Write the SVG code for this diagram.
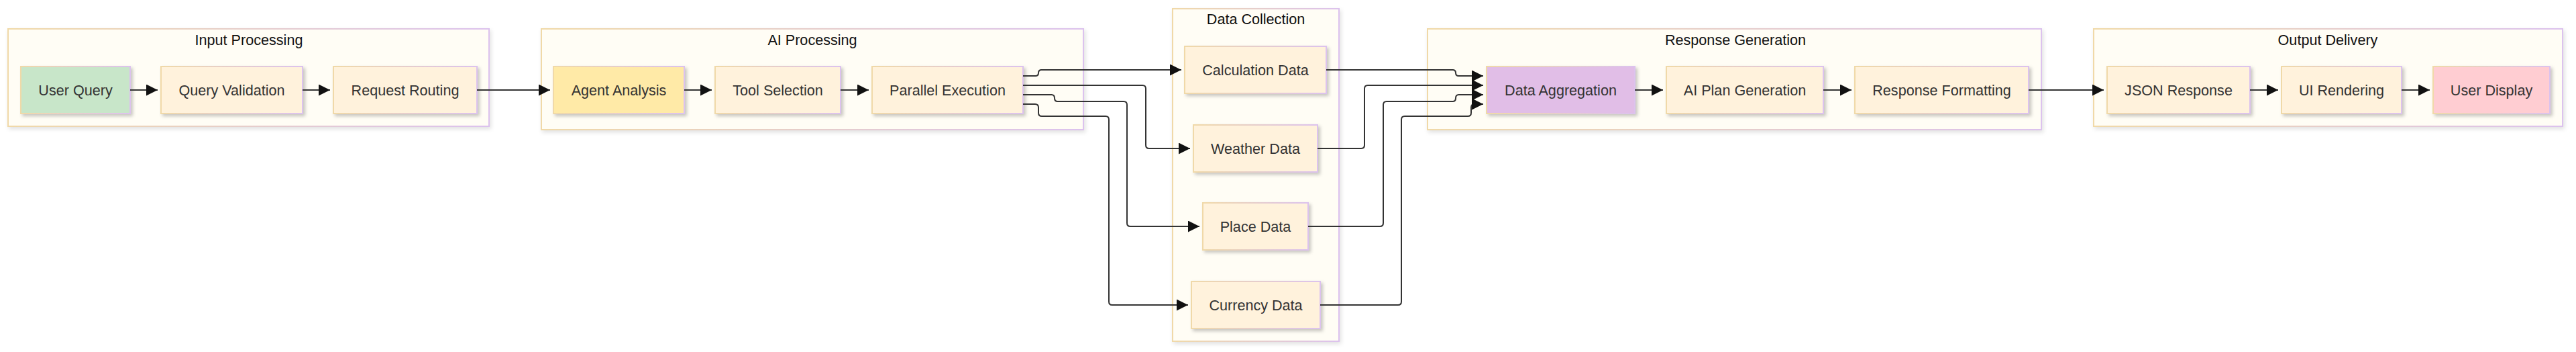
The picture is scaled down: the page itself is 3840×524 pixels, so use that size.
<svg xmlns="http://www.w3.org/2000/svg" width="3840" height="524" viewBox="0 0 3840 524">
<defs>
<linearGradient id="bd" x1="0" y1="0" x2="1" y2="0"><stop offset="0" stop-color="#f0d9a8"/><stop offset="1" stop-color="#dcc2ee"/></linearGradient>
<filter id="sh" x="-10%" y="-20%" width="130%" height="150%"><feDropShadow dx="3" dy="3" stdDeviation="2.5" flood-color="#000" flood-opacity="0.22"/></filter>
<filter id="gsh" x="-5%" y="-10%" width="110%" height="130%"><feDropShadow dx="2" dy="3" stdDeviation="3" flood-color="#000" flood-opacity="0.12"/></filter>
<marker id="ah" markerUnits="userSpaceOnUse" markerWidth="17" markerHeight="17" refX="17" refY="8.5" orient="auto"><path d="M0,0 L17,8.5 L0,17 z" fill="#111"/></marker>
</defs>
<style>
.grp{fill:#fffdf5;stroke:url(#bd);stroke-width:2;filter:url(#gsh)}
.nd{fill:#fff2dc;stroke:url(#bd);stroke-width:2;filter:url(#sh)}
.gt{font-family:"Liberation Sans",Arial,sans-serif;font-size:21.6px;fill:#111;text-anchor:middle}
.nt{font-family:"Liberation Sans",Arial,sans-serif;font-size:21.6px;fill:#333;text-anchor:middle}
.cn path{fill:none;stroke:#333;stroke-width:2;marker-end:url(#ah)}
</style>
<g id="input-processing"><rect class="grp" x="12" y="43" width="717" height="145"/><text class="gt" x="371" y="67">Input Processing</text></g>
<g id="ai-processing"><rect class="grp" x="807" y="43" width="808" height="150"/><text class="gt" x="1211" y="67">AI Processing</text></g>
<g id="data-collection"><rect class="grp" x="1748" y="13" width="248" height="495"/><text class="gt" x="1872" y="36">Data Collection</text></g>
<g id="response-generation"><rect class="grp" x="2128" y="43" width="915" height="150"/><text class="gt" x="2587" y="67">Response Generation</text></g>
<g id="output-delivery"><rect class="grp" x="3121" y="43" width="699" height="145"/><text class="gt" x="3470" y="67">Output Delivery</text></g>

<g id="user-query"><rect class="nd" x="31" y="99" width="163" height="70" style="fill:#c8e6c9"/><text class="nt" x="112.5" y="142">User Query</text></g>
<g id="query-validation"><rect class="nd" x="240" y="99" width="211" height="70"/><text class="nt" x="345.5" y="142">Query Validation</text></g>
<g id="request-routing"><rect class="nd" x="497" y="99" width="214" height="70"/><text class="nt" x="604" y="142">Request Routing</text></g>
<g id="agent-analysis"><rect class="nd" x="825" y="99" width="195" height="70" style="fill:#ffeaa7"/><text class="nt" x="922.5" y="142">Agent Analysis</text></g>
<g id="tool-selection"><rect class="nd" x="1066" y="99" width="187" height="70"/><text class="nt" x="1159.5" y="142">Tool Selection</text></g>
<g id="parallel-execution"><rect class="nd" x="1300" y="99" width="225" height="70"/><text class="nt" x="1412.5" y="142">Parallel Execution</text></g>
<g id="calculation-data"><rect class="nd" x="1766" y="69" width="211" height="70"/><text class="nt" x="1871.5" y="112">Calculation Data</text></g>
<g id="weather-data"><rect class="nd" x="1779" y="186" width="185" height="70"/><text class="nt" x="1871.5" y="229">Weather Data</text></g>
<g id="place-data"><rect class="nd" x="1793" y="302" width="157" height="70"/><text class="nt" x="1871.5" y="345">Place Data</text></g>
<g id="currency-data"><rect class="nd" x="1776" y="419" width="192" height="70"/><text class="nt" x="1872" y="462">Currency Data</text></g>
<g id="data-aggregation"><rect class="nd" x="2216" y="99" width="221" height="70" style="fill:#e1bee7"/><text class="nt" x="2326.5" y="142">Data Aggregation</text></g>
<g id="ai-plan-generation"><rect class="nd" x="2484" y="99" width="234" height="70"/><text class="nt" x="2601" y="142">AI Plan Generation</text></g>
<g id="response-formatting"><rect class="nd" x="2765" y="99" width="259" height="70"/><text class="nt" x="2894.5" y="142">Response Formatting</text></g>
<g id="json-response"><rect class="nd" x="3141" y="99" width="213" height="70"/><text class="nt" x="3247.5" y="142">JSON Response</text></g>
<g id="ui-rendering"><rect class="nd" x="3401" y="99" width="179" height="70"/><text class="nt" x="3490.5" y="142">UI Rendering</text></g>
<g id="user-display"><rect class="nd" x="3627" y="99" width="174" height="70" style="fill:#ffcdd2"/><text class="nt" x="3714" y="142">User Display</text></g>

<g id="connectors" class="cn">
<path d="M194,134 H235"/>
<path d="M451,134 H492"/>
<path d="M711,134 H820"/>
<path d="M1020,134 H1061"/>
<path d="M1253,134 H1295"/>
<path d="M1525,113 H1543.5 Q1548,113 1548,108.5 Q1548,104 1552.5,104 H1761"/>
<path d="M1525,127 H1703 Q1708,127 1708,132 V216 Q1708,221 1713,221 H1774"/>
<path d="M1525,141 H1567.5 Q1572,141 1572,146 Q1572,151 1576.5,151 H1675 Q1680,151 1680,156 V332 Q1680,337 1685,337 H1788"/>
<path d="M1525,155 H1543 Q1548,155 1548,160 V168 Q1548,173 1553,173 H1648 Q1653,173 1653,178 V449 Q1653,454 1658,454 H1771"/>
<path d="M1977,104 H2165.5 Q2170,104 2170,108.5 Q2170,113 2174.5,113 H2211"/>
<path d="M1964,221 H2029 Q2034,221 2034,216 V132 Q2034,127 2039,127 H2211"/>
<path d="M1950,337 H2057 Q2062,337 2062,332 V156 Q2062,151 2067,151 H2165.5 Q2170,151 2170,146 Q2170,141 2174.5,141 H2211"/>
<path d="M1968,454 H2084 Q2089,454 2089,449 V178 Q2089,173 2094,173 H2188 Q2193,173 2193,168 V160 Q2193,155 2198,155 H2211"/>
<path d="M2437,134 H2479"/>
<path d="M2718,134 H2760"/>
<path d="M3024,134 H3136"/>
<path d="M3354,134 H3396"/>
<path d="M3580,134 H3622"/>
</g>
</svg>
